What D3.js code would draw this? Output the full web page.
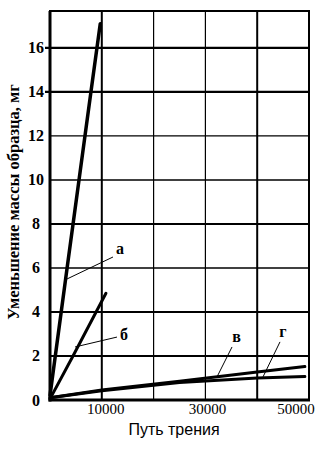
<!DOCTYPE html>
<html>
<head>
<meta charset="utf-8">
<script src="https://cdn.jsdelivr.net/npm/d3@7"></script>
<style>
  body { margin: 0; background: #fff; }
  svg { display: block; }
</style>
</head>
<body>
<svg id="chart"></svg>
<script>
// data: [path, mass loss mg]
const seriesA = [[0, 0.2], [3300, 6], [5600, 10], [7900, 14], [9700, 17.1]];
const seriesB = [[0, 0.05], [4440, 2], [10800, 4.85]];
const seriesV = [[0, 0.1], [10000, 0.45], [25000, 0.85], [40000, 1.27], [49200, 1.52]];
const seriesG = [[0, 0.1], [10000, 0.42], [25000, 0.8], [40000, 1.0], [49200, 1.07]];

const curveNames = ["а", "б", "в", "г"];
// label position (x, y in data units) and leader from/to
const labelAt = [[13510, 6.64], [14290, 2.73], [36000, 2.64], [44980, 2.86]];
const leaderFrom = [[12160, 6.5], [12930, 2.86], [35140, 2.41], [44400, 2.64]];
const leaderTo = [[3280, 5.5], [4830, 2.41], [32240, 1.05], [41120, 1.05]];

const xTicks = [10000, 30000, 50000];
const xGrid = [10000, 20000, 30000, 40000];
const yTicks = [0, 2, 4, 6, 8, 10, 12, 14, 16];

const xTitle = "Путь трения";
const yTitle = "Уменьшение массы образца, мг";

const W = 334, H = 452;
const svg = d3.select("#chart").attr("width", W).attr("height", H);

const x = d3.scaleLinear().domain([0, 50000]).range([50, 309]);
const y = d3.scaleLinear().domain([0, 17.68]).range([400, 11]);

const serif = "'Liberation Serif', 'Times New Roman', serif";
const sans = "'Liberation Sans', Arial, sans-serif";

// grid
const heavyY = [2, 4, 8, 14, 16];
svg.append("g").selectAll("line")
    .data(yTicks.filter(d => d > 0))
    .enter().append("line")
    .attr("x1", d => (d >= 14 ? x(0) - 5 : x(0)))
    .attr("x2", x(50000))
    .attr("y1", d => y(d)).attr("y2", d => y(d))
    .attr("stroke", "#000")
    .attr("stroke-width", d => heavyY.includes(d) ? 2.2 : 1.3);

svg.append("g").selectAll("line")
    .data(xGrid)
    .enter().append("line")
    .attr("x1", d => x(d)).attr("x2", d => x(d))
    .attr("y1", y(17.68)).attr("y2", y(0))
    .attr("stroke", "#000")
    .attr("stroke-width", d => (d === 10000 || d === 40000) ? 2 : 1.2);

// frame
svg.append("rect")
    .attr("x", x(0)).attr("y", y(17.68))
    .attr("width", x(50000) - x(0)).attr("height", y(0) - y(17.68))
    .attr("fill", "none").attr("stroke", "#000").attr("stroke-width", 2);
svg.append("line")
    .attr("x1", x(0)).attr("x2", x(0)).attr("y1", y(17.68)).attr("y2", y(0) + 1.5)
    .attr("stroke", "#000").attr("stroke-width", 3);
svg.append("line")
    .attr("x1", x(0) - 1.5).attr("x2", x(50000) + 1).attr("y1", y(0)).attr("y2", y(0))
    .attr("stroke", "#000").attr("stroke-width", 3);

// y tick labels
svg.append("g").selectAll("text")
    .data(yTicks)
    .enter().append("text")
    .attr("x", 36)
    .attr("y", d => y(d) + 5.5)
    .attr("text-anchor", "middle")
    .attr("font-family", serif)
    .attr("font-weight", "bold")
    .attr("font-size", 16)
    .text(d => d);

// x tick labels
const xShift = {10000: 4, 30000: 2, 50000: -13};
svg.append("g").selectAll("text")
    .data(xTicks)
    .enter().append("text")
    .attr("x", d => x(d) + xShift[d])
    .attr("y", 414)
    .attr("text-anchor", "middle")
    .attr("font-family", serif)
    .attr("font-size", 15)
    .text(d => d);

svg.append("text")
    .attr("x", 174).attr("y", 435)
    .attr("text-anchor", "middle")
    .attr("font-family", sans)
    .attr("font-size", 16)
    .text(xTitle);

svg.append("text")
    .attr("transform", "translate(19,202) rotate(-90)")
    .attr("text-anchor", "middle")
    .attr("font-family", serif)
    .attr("font-weight", "bold")
    .attr("font-size", 16.5)
    .text(yTitle);

// curves
const line = d3.line().x(d => x(d[0])).y(d => y(d[1]));
const curves = [seriesA, seriesB, seriesV, seriesG];
const widths = [3.5, 3, 3, 3];
svg.append("g").selectAll("path")
    .data(curves)
    .enter().append("path")
    .attr("d", line)
    .attr("fill", "none")
    .attr("stroke", "#000")
    .attr("stroke-width", (d, i) => widths[i])
    .attr("stroke-linecap", "round");

// leaders and labels
svg.append("g").selectAll("line")
    .data(curveNames)
    .enter().append("line")
    .attr("x1", (d, i) => x(leaderFrom[i][0])).attr("y1", (d, i) => y(leaderFrom[i][1]))
    .attr("x2", (d, i) => x(leaderTo[i][0])).attr("y2", (d, i) => y(leaderTo[i][1]))
    .attr("stroke", "#000").attr("stroke-width", 1);

svg.append("g").selectAll("text")
    .data(curveNames)
    .enter().append("text")
    .attr("x", (d, i) => x(labelAt[i][0]))
    .attr("y", (d, i) => y(labelAt[i][1]))
    .attr("text-anchor", "middle")
    .attr("font-family", serif)
    .attr("font-weight", "bold")
    .attr("font-size", 16)
    .text(d => d);
</script>
</body>
</html>
